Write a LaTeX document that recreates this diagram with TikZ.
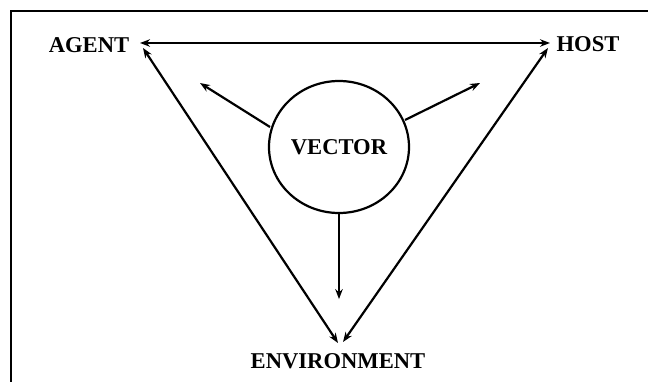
\documentclass[tikz,border=0pt]{standalone}
\usepackage{fontspec}
\setmainfont{Liberation Serif}
\usetikzlibrary{arrows.meta,calc,shapes.geometric}
\begin{document}
\begin{tikzpicture}[x=1pt,y=-1pt,
  lbl/.style={font=\fontsize{22.6}{24}\selectfont\bfseries, inner sep=0pt},
  arr/.style={line width=2.2pt,-{Stealth[length=10pt,width=7.5pt]}},
  darr/.style={line width=2.2pt,{Stealth[length=10pt,width=7.5pt]}-{Stealth[length=10pt,width=7.5pt]}},
  vec/.style={draw, line width=2.2pt, ellipse, minimum width=140pt, minimum height=132pt, inner sep=0pt}]
\useasboundingbox (0,0) rectangle (648,382);
\draw[line width=1.6pt] (11,382) -- (11,11) -- (648,11);
\node[lbl] (agent) at (89,45) {AGENT};
\node[lbl] (host) at (588,44) {HOST};
\node[lbl] (env) at (338,361) {ENVIRONMENT};
\node[vec] (vector) at (339,147) {};
\node[lbl] (vlabel) at (vector.center) {VECTOR};
\draw[darr] ($(agent)+(51,-2)$) -- ($(host)+(-38,-1)$);
\draw[darr] ($(agent)+(54,3)$) -- ($(env)+(0,-18)$);
\draw[darr] ($(host)+(-40,4)$) -- ($(env)+(5,-19)$);
\draw[arr] ($(vector)+(-69,-20)$) -- ($(vector)+(-139,-64)$);
\draw[arr] ($(vector)+(66,-27)$) -- ($(vector)+(141,-64)$);
\draw[arr] (vector.south) -- ($(vector.south)+(0,85)$);
\end{tikzpicture}
\end{document}
